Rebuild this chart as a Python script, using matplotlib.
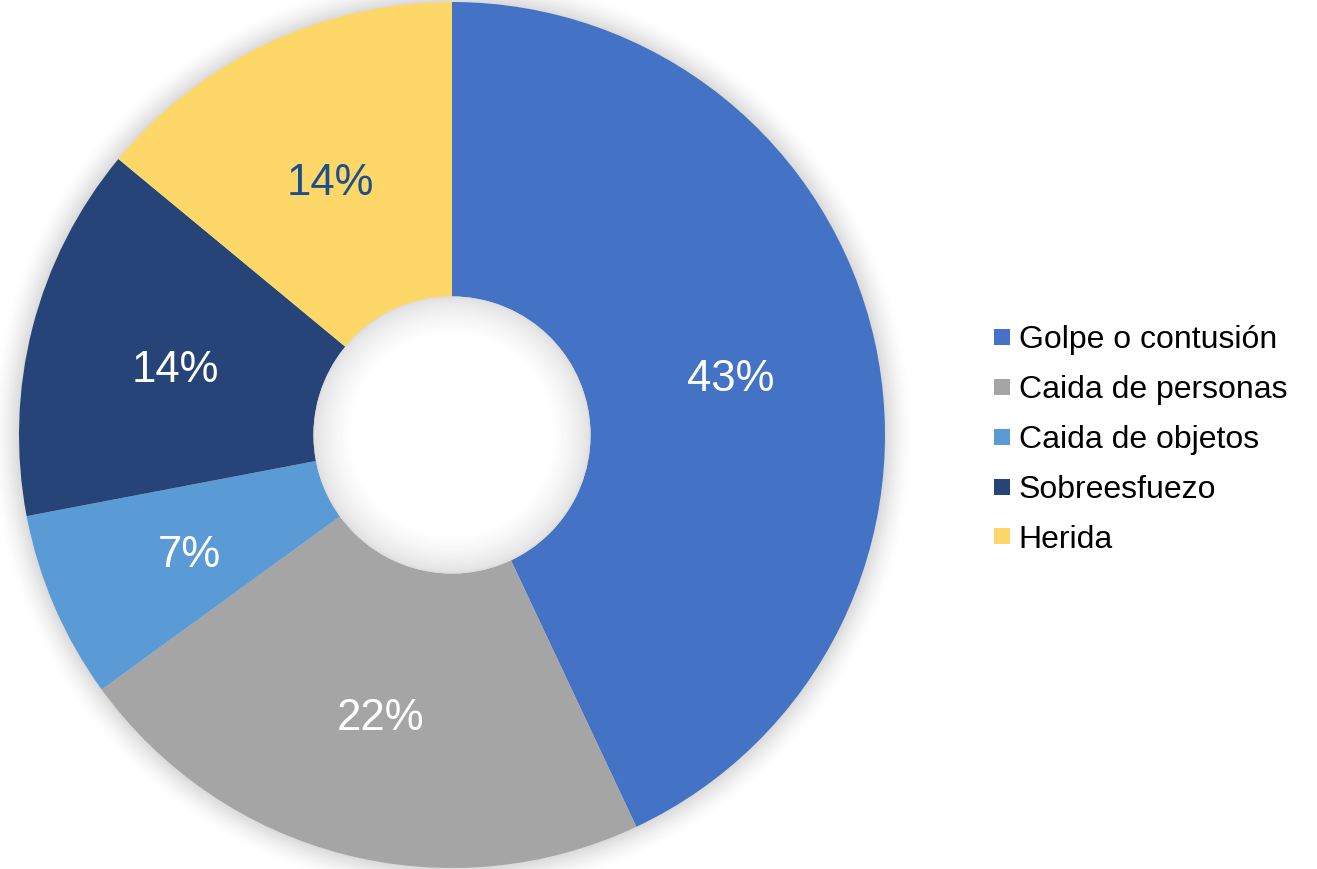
import matplotlib.pyplot as plt
from matplotlib.patches import Circle
from matplotlib.lines import Line2D

plt.rcParams['font.family'] = ['Liberation Sans', 'DejaVu Sans']

# datos del grafico
categorias = ['Golpe o contusión', 'Caida de personas', 'Caida de objetos',
              'Sobreesfuezo', 'Herida']
valores = [43, 22, 7, 14, 14]
colores = ['#4472C4', '#A5A5A5', '#5B9BD5', '#264478', '#FDD868']
color_texto = ['white', 'white', 'white', 'white', '#1F4E8C']

W, H = 1317, 869
fig = plt.figure(figsize=(W/100, H/100), dpi=100)

# centro y radio del anillo en pixeles
cx, cy, R = 452, 435, 433
ax = fig.add_axes([(cx-R)/W, (H-cy-R)/H, 2*R/W, 2*R/H])

hole = 0.32
wedges, texts, autotexts = ax.pie(valores, colors=colores, startangle=90,
                                  counterclock=False, radius=1,
                                  autopct='%1.0f%%', pctdistance=0.66,
                                  wedgeprops=dict(width=1-hole, linewidth=0),
                                  textprops=dict(fontsize=31.5))
for t, c in zip(autotexts, color_texto):
    t.set_color(c)
    x, y = t.get_position()
    t.set_position((x, y - 0.016))

# sombra exterior difusa (de fuera hacia dentro)
n = 30
for i in range(n):
    f = i / (n - 1)          # 0 fuera, 1 en el borde
    r = 1.065 - 0.065*f
    g = 1 - 0.15*f**1.6
    circ = Circle((0, 0), r, facecolor=(g, g, g), linewidth=0, zorder=0)
    circ.set_clip_on(False)
    ax.add_patch(circ)

# sombra interior del hueco (del borde hacia el centro)
m = 30
for i in range(m):
    f = i / (m - 1)          # 0 en el borde, 1 dentro
    r = hole - 0.085*f
    g = 0.87 + 0.13*f**0.6
    ax.add_patch(Circle((0, 0), r, facecolor=(g, g, g), linewidth=0,
                        zorder=3))

ax.set_xlim(-1, 1)
ax.set_ylim(-1, 1)
ax.set_aspect('equal')
ax.axis('off')

handles = [Line2D([], [], linestyle='none', marker='s', markersize=11,
                  markerfacecolor=c, markeredgewidth=0) for c in colores]
fig.legend(handles, categorias, loc='center left',
           bbox_to_anchor=(993/W, 1-440/H), frameon=False, fontsize=23,
           handlelength=0.55, handletextpad=0.25, labelspacing=0.62,
           borderpad=0, borderaxespad=0)

fig.savefig('out.png', dpi=100)
